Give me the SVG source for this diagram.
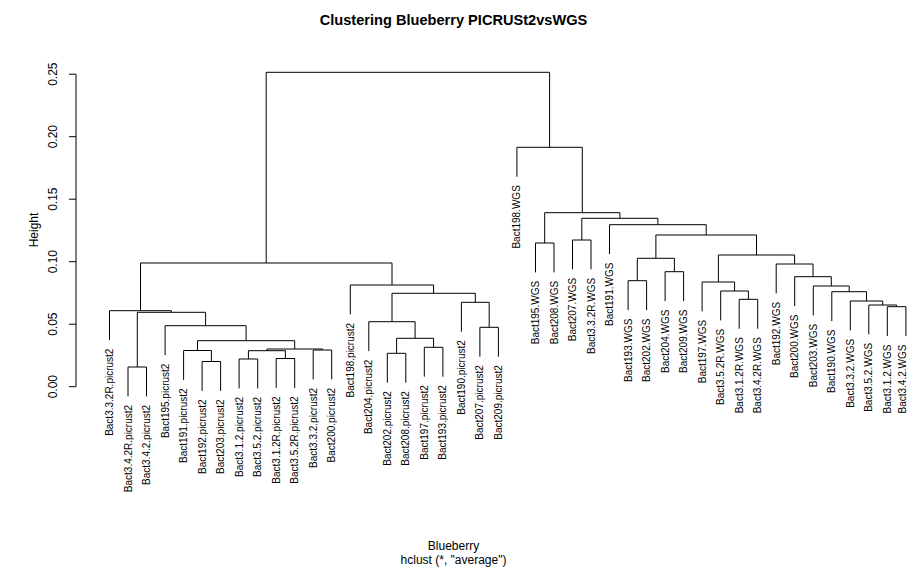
<svg xmlns="http://www.w3.org/2000/svg" width="907" height="587" viewBox="0 0 907 587">
  <style>
    text { font-family: "Liberation Sans", Arial, sans-serif; fill: #000; }
    .title { font-size: 14.6px; font-weight: bold; text-anchor: middle; }
    .axlab { font-size: 12px; text-anchor: middle; }
    .lab { font-size: 10px; text-anchor: end; }
    .br { fill: none; stroke: #000; stroke-width: 1; }
  </style>
  <rect width="907" height="587" fill="#fff"/>

  <text class="title" x="453.5" y="25">Clustering Blueberry PICRUSt2vsWGS</text>

  <!-- y axis -->
  <g id="axis">
    <path class="br" d="M76 386.7V74.2M69 386.7H76M69 324.2H76M69 261.7H76M69 199.2H76M69 136.7H76M69 74.2H76"/>
    <text class="axlab" transform="translate(57.3,386.7) rotate(-90)">0.00</text>
    <text class="axlab" transform="translate(57.3,324.2) rotate(-90)">0.05</text>
    <text class="axlab" transform="translate(57.3,261.7) rotate(-90)">0.10</text>
    <text class="axlab" transform="translate(57.3,199.2) rotate(-90)">0.15</text>
    <text class="axlab" transform="translate(57.3,136.7) rotate(-90)">0.20</text>
    <text class="axlab" transform="translate(57.3,74.2) rotate(-90)">0.25</text>
    <text class="axlab" transform="translate(37.5,230) rotate(-90)">Height</text>
  </g>

  <text class="axlab" x="453.5" y="550">Blueberry</text>
  <text class="axlab" x="453.5" y="564">hclust (*, "average")</text>

  <!-- dendrogram branches: each path joins two children at a merge height -->
  <g id="connectors" class="br">
    <path class="br" d="M128.0 396.4V367H146.5V396.4"/>
    <path class="br" d="M202.1 390.9V361.5H220.6V390.9"/>
    <path class="br" d="M183.6 379.9V350.5H211.4V361.5"/>
    <path class="br" d="M239.1 388.4V359H257.7V388.4"/>
    <path class="br" d="M276.2 387.9V358.5H294.7V387.9"/>
    <path class="br" d="M248.4 359V350.7H285.4V358.5"/>
    <path class="br" d="M313.2 379.4V350H331.7V379.4"/>
    <path class="br" d="M266.9 350.7V349H322.5V350"/>
    <path class="br" d="M197.5 350.5V340.7H294.7V349"/>
    <path class="br" d="M165.1 355.1V325.7H246.1V340.7"/>
    <path class="br" d="M137.3 367V312.3H205.6V325.7"/>
    <path class="br" d="M109.5 340.1V310.7H171.4V312.3"/>

    <path class="br" d="M387.3 382.7V353.3H405.8V382.7"/>
    <path class="br" d="M424.3 376.7V347.3H442.9V376.7"/>
    <path class="br" d="M396.6 353.3V338.3H433.6V347.3"/>
    <path class="br" d="M368.8 351.1V321.7H415.1V338.3"/>
    <path class="br" d="M479.9 356.7V327.3H498.4V356.7"/>
    <path class="br" d="M461.4 331.7V302.3H489.2V327.3"/>
    <path class="br" d="M392.0 321.7V293.3H475.3V302.3"/>
    <path class="br" d="M350.3 314.4V285H433.6V293.3"/>
    <path class="br" d="M140.5 310.7V263H392.0V285"/>

    <path class="br" d="M535.5 272.4V243H554.0V272.4"/>
    <path class="br" d="M572.5 269.4V240H591.0V269.4"/>
    <path class="br" d="M628.1 310.1V280.7H646.6V310.1"/>
    <path class="br" d="M665.1 301.1V271.7H683.6V301.1"/>
    <path class="br" d="M637.3 280.7V258.3H674.4V271.7"/>
    <path class="br" d="M739.2 328.7V299.3H757.7V328.7"/>
    <path class="br" d="M720.7 320.4V291H748.4V299.3"/>
    <path class="br" d="M702.1 311.4V282H734.6V291"/>
    <path class="br" d="M887.3 336.1V306.7H905.9V336.1"/>
    <path class="br" d="M868.8 334.4V305H896.6V306.7"/>
    <path class="br" d="M850.3 330.4V301H882.7V305"/>
    <path class="br" d="M831.8 321.1V291.7H866.5V301"/>
    <path class="br" d="M813.3 315.4V286H849.2V291.7"/>
    <path class="br" d="M794.7 306.1V276.7H831.3V286"/>
    <path class="br" d="M776.2 293.4V264H813.0V276.7"/>
    <path class="br" d="M718.4 282V255H794.6V264"/>
    <path class="br" d="M655.9 258.3V235H756.5V255"/>
    <path class="br" d="M609.5 254.1V224.7H706.2V235"/>
    <path class="br" d="M581.8 240V218.3H657.9V224.7"/>
    <path class="br" d="M544.7 243V212.7H619.9V218.3"/>
    <path class="br" d="M516.9 176.7V147.3H582.3V212.7"/>

    <path class="br" d="M266.2 263V72.3H549.6V147.3"/>
  </g>

  <!-- leaf labels -->
  <g id="leaf-Bact3.3.2R.picrust2"><text class="lab" transform="translate(113.0,348.6) rotate(-90)">Bact3.3.2R.picrust2</text></g>
  <g id="leaf-Bact3.4.2R.picrust2"><text class="lab" transform="translate(131.5,404.9) rotate(-90)">Bact3.4.2R.picrust2</text></g>
  <g id="leaf-Bact3.4.2.picrust2"><text class="lab" transform="translate(150.0,404.9) rotate(-90)">Bact3.4.2.picrust2</text></g>
  <g id="leaf-Bact195.picrust2"><text class="lab" transform="translate(168.6,363.6) rotate(-90)">Bact195.picrust2</text></g>
  <g id="leaf-Bact191.picrust2"><text class="lab" transform="translate(187.1,388.4) rotate(-90)">Bact191.picrust2</text></g>
  <g id="leaf-Bact192.picrust2"><text class="lab" transform="translate(205.6,399.4) rotate(-90)">Bact192.picrust2</text></g>
  <g id="leaf-Bact203.picrust2"><text class="lab" transform="translate(224.1,399.4) rotate(-90)">Bact203.picrust2</text></g>
  <g id="leaf-Bact3.1.2.picrust2"><text class="lab" transform="translate(242.6,396.9) rotate(-90)">Bact3.1.2.picrust2</text></g>
  <g id="leaf-Bact3.5.2.picrust2"><text class="lab" transform="translate(261.2,396.9) rotate(-90)">Bact3.5.2.picrust2</text></g>
  <g id="leaf-Bact3.1.2R.picrust2"><text class="lab" transform="translate(279.7,396.4) rotate(-90)">Bact3.1.2R.picrust2</text></g>
  <g id="leaf-Bact3.5.2R.picrust2"><text class="lab" transform="translate(298.2,396.4) rotate(-90)">Bact3.5.2R.picrust2</text></g>
  <g id="leaf-Bact3.3.2.picrust2"><text class="lab" transform="translate(316.7,387.9) rotate(-90)">Bact3.3.2.picrust2</text></g>
  <g id="leaf-Bact200.picrust2"><text class="lab" transform="translate(335.2,387.9) rotate(-90)">Bact200.picrust2</text></g>
  <g id="leaf-Bact198.picrust2"><text class="lab" transform="translate(353.8,322.9) rotate(-90)">Bact198.picrust2</text></g>
  <g id="leaf-Bact204.picrust2"><text class="lab" transform="translate(372.3,359.6) rotate(-90)">Bact204.picrust2</text></g>
  <g id="leaf-Bact202.picrust2"><text class="lab" transform="translate(390.8,391.2) rotate(-90)">Bact202.picrust2</text></g>
  <g id="leaf-Bact208.picrust2"><text class="lab" transform="translate(409.3,391.2) rotate(-90)">Bact208.picrust2</text></g>
  <g id="leaf-Bact197.picrust2"><text class="lab" transform="translate(427.8,385.2) rotate(-90)">Bact197.picrust2</text></g>
  <g id="leaf-Bact193.picrust2"><text class="lab" transform="translate(446.4,385.2) rotate(-90)">Bact193.picrust2</text></g>
  <g id="leaf-Bact190.picrust2"><text class="lab" transform="translate(464.9,340.2) rotate(-90)">Bact190.picrust2</text></g>
  <g id="leaf-Bact207.picrust2"><text class="lab" transform="translate(483.4,365.2) rotate(-90)">Bact207.picrust2</text></g>
  <g id="leaf-Bact209.picrust2"><text class="lab" transform="translate(501.9,365.2) rotate(-90)">Bact209.picrust2</text></g>
  <g id="leaf-Bact198.WGS"><text class="lab" transform="translate(520.4,185.2) rotate(-90)">Bact198.WGS</text></g>
  <g id="leaf-Bact195.WGS"><text class="lab" transform="translate(539.0,280.9) rotate(-90)">Bact195.WGS</text></g>
  <g id="leaf-Bact208.WGS"><text class="lab" transform="translate(557.5,280.9) rotate(-90)">Bact208.WGS</text></g>
  <g id="leaf-Bact207.WGS"><text class="lab" transform="translate(576.0,277.9) rotate(-90)">Bact207.WGS</text></g>
  <g id="leaf-Bact3.3.2R.WGS"><text class="lab" transform="translate(594.5,277.9) rotate(-90)">Bact3.3.2R.WGS</text></g>
  <g id="leaf-Bact191.WGS"><text class="lab" transform="translate(613.0,262.6) rotate(-90)">Bact191.WGS</text></g>
  <g id="leaf-Bact193.WGS"><text class="lab" transform="translate(631.6,318.6) rotate(-90)">Bact193.WGS</text></g>
  <g id="leaf-Bact202.WGS"><text class="lab" transform="translate(650.1,318.6) rotate(-90)">Bact202.WGS</text></g>
  <g id="leaf-Bact204.WGS"><text class="lab" transform="translate(668.6,309.6) rotate(-90)">Bact204.WGS</text></g>
  <g id="leaf-Bact209.WGS"><text class="lab" transform="translate(687.1,309.6) rotate(-90)">Bact209.WGS</text></g>
  <g id="leaf-Bact197.WGS"><text class="lab" transform="translate(705.6,319.9) rotate(-90)">Bact197.WGS</text></g>
  <g id="leaf-Bact3.5.2R.WGS"><text class="lab" transform="translate(724.2,328.9) rotate(-90)">Bact3.5.2R.WGS</text></g>
  <g id="leaf-Bact3.1.2R.WGS"><text class="lab" transform="translate(742.7,337.2) rotate(-90)">Bact3.1.2R.WGS</text></g>
  <g id="leaf-Bact3.4.2R.WGS"><text class="lab" transform="translate(761.2,337.2) rotate(-90)">Bact3.4.2R.WGS</text></g>
  <g id="leaf-Bact192.WGS"><text class="lab" transform="translate(779.7,301.9) rotate(-90)">Bact192.WGS</text></g>
  <g id="leaf-Bact200.WGS"><text class="lab" transform="translate(798.2,314.6) rotate(-90)">Bact200.WGS</text></g>
  <g id="leaf-Bact203.WGS"><text class="lab" transform="translate(816.8,323.9) rotate(-90)">Bact203.WGS</text></g>
  <g id="leaf-Bact190.WGS"><text class="lab" transform="translate(835.3,329.6) rotate(-90)">Bact190.WGS</text></g>
  <g id="leaf-Bact3.3.2.WGS"><text class="lab" transform="translate(853.8,338.9) rotate(-90)">Bact3.3.2.WGS</text></g>
  <g id="leaf-Bact3.5.2.WGS"><text class="lab" transform="translate(872.3,342.9) rotate(-90)">Bact3.5.2.WGS</text></g>
  <g id="leaf-Bact3.1.2.WGS"><text class="lab" transform="translate(890.8,344.6) rotate(-90)">Bact3.1.2.WGS</text></g>
  <g id="leaf-Bact3.4.2.WGS"><text class="lab" transform="translate(906.3,344.6) rotate(-90)">Bact3.4.2.WGS</text></g>
</svg>
